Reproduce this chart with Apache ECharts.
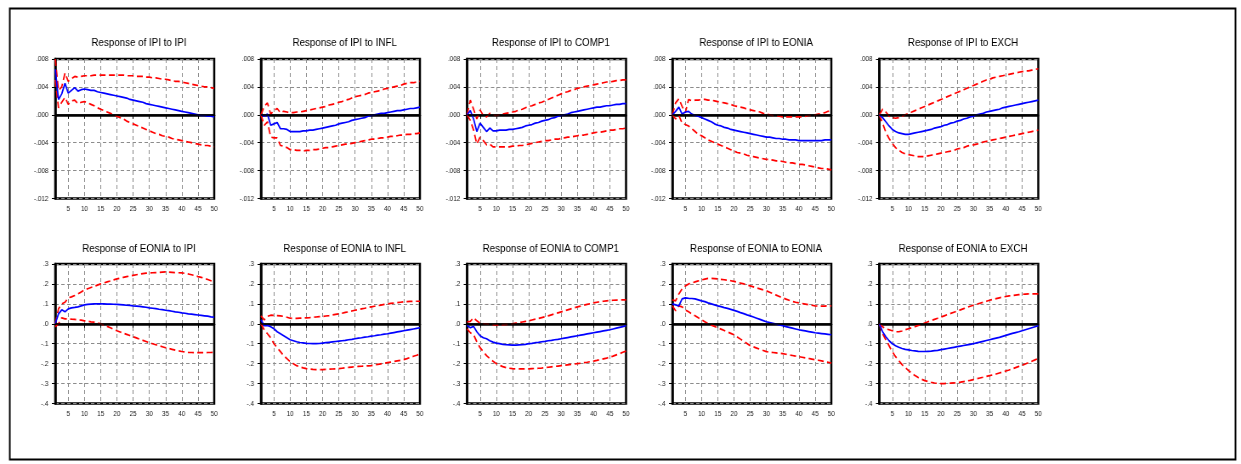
<!DOCTYPE html>
<html>
<head>
<meta charset="utf-8">
<script src="https://cdn.jsdelivr.net/npm/echarts@6/dist/echarts.min.js"></script>
<style>
  html, body { margin: 0; padding: 0; background: #fff; overflow: hidden; }
  #wrap { width: 1241px; height: 464px; overflow: hidden; }
  /* the graph is laid out on a 1460px wide sheet and squeezed to the window width */
  #main { width: 1460px; height: 464px; transform: scaleX(0.85); transform-origin: 0 0; }
</style>
</head>
<body>
<div id="wrap"><div id="main"></div></div>
<script>
// periods 1..50
var periods = [];
for (var p = 1; p <= 50; p++) periods.push(String(p));

// Response of IPI to IPI
var ipiIpi = [.0065,.0022,.0030,.0045,.0031,.0035,.0039,.0034,.0036,.0037,.0036,.0035,.0035,.0033,.0032,.0031,.0030,.0029,.0028,.0027,.0026,.0025,.0024,.0022,.0021,.0020,.0019,.0018,.0016,.0015,.0014,.0013,.0012,.0011,.0010,.0009,.0008,.0007,.0006,.0005,.0004,.0003,.0002,.0001,.0000,-.0001,-.0001,-.0002,-.0002,-.0003];
var ipiIpiHi = [.0080,.0035,.0040,.0060,.0048,.0052,.0055,.0054,.0055,.0056,.0056,.0056,.0057,.0057,.0057,.0057,.0057,.0057,.0057,.0057,.0057,.0057,.0056,.0056,.0056,.0055,.0055,.0055,.0054,.0054,.0053,.0053,.0052,.0051,.0051,.0050,.0049,.0048,.0048,.0047,.0046,.0045,.0044,.0043,.0042,.0041,.0040,.0040,.0039,.0038];
var ipiIpiLo = [.0050,.0010,.0018,.0025,.0015,.0020,.0021,.0016,.0018,.0019,.0017,.0015,.0013,.0010,.0008,.0006,.0004,.0002,.0000,-.0002,-.0004,-.0006,-.0009,-.0011,-.0013,-.0015,-.0017,-.0019,-.0021,-.0023,-.0025,-.0027,-.0028,-.0030,-.0031,-.0032,-.0034,-.0035,-.0036,-.0037,-.0038,-.0039,-.0040,-.0041,-.0042,-.0043,-.0044,-.0044,-.0045,-.0046];

// Response of IPI to INFL
var ipiInfl = [0,-.0002,.0001,-.0015,-.0013,-.0011,-.0020,-.0020,-.0021,-.0024,-.0024,-.0024,-.0024,-.0023,-.0023,-.0022,-.0022,-.0021,-.0020,-.0019,-.0018,-.0017,-.0016,-.0015,-.0013,-.0012,-.0011,-.0010,-.0008,-.0007,-.0006,-.0005,-.0004,-.0002,-.0001,.0000,.0001,.0002,.0002,.0003,.0004,.0005,.0006,.0006,.0007,.0008,.0009,.0009,.0010,.0011];
var ipiInflHi = [0,.0012,.0017,.0001,.0006,.0009,.0003,.0005,.0004,.0003,.0003,.0004,.0004,.0005,.0006,.0007,.0008,.0009,.0010,.0011,.0012,.0014,.0015,.0016,.0018,.0019,.0021,.0022,.0024,.0026,.0027,.0028,.0029,.0031,.0032,.0033,.0034,.0035,.0037,.0038,.0039,.0040,.0041,.0042,.0044,.0045,.0046,.0046,.0047,.0048];
var ipiInflLo = [0,-.0015,-.0010,-.0032,-.0033,-.0033,-.0044,-.0045,-.0047,-.0050,-.0050,-.0051,-.0051,-.0052,-.0051,-.0051,-.0050,-.0050,-.0049,-.0048,-.0047,-.0047,-.0046,-.0045,-.0044,-.0043,-.0042,-.0042,-.0041,-.0040,-.0039,-.0038,-.0037,-.0036,-.0035,-.0035,-.0034,-.0033,-.0033,-.0032,-.0031,-.0031,-.0030,-.0029,-.0029,-.0028,-.0028,-.0027,-.0027,-.0026];

// Response of IPI to COMP1
var ipiComp = [0,.0006,-.0006,-.0024,-.0012,-.0018,-.0024,-.0019,-.0023,-.0023,-.0022,-.0022,-.0022,-.0021,-.0021,-.0020,-.0019,-.0018,-.0016,-.0015,-.0014,-.0012,-.0011,-.0009,-.0008,-.0007,-.0005,-.0004,-.0002,-.0001,.0000,.0001,.0003,.0004,.0005,.0006,.0007,.0008,.0009,.0010,.0011,.0011,.0012,.0013,.0013,.0014,.0015,.0015,.0016,.0016];
var ipiCompHi = [0,.0021,.0008,-.0006,.0007,-.0001,-.0003,.0002,.0000,-.0001,.0000,.0001,.0002,.0003,.0004,.0005,.0007,.0008,.0010,.0012,.0013,.0015,.0017,.0018,.0020,.0022,.0024,.0026,.0028,.0030,.0032,.0033,.0035,.0036,.0038,.0039,.0040,.0041,.0042,.0043,.0044,.0045,.0046,.0047,.0047,.0048,.0049,.0049,.0050,.0050];
var ipiCompLo = [0,-.0008,-.0022,-.0042,-.0032,-.0037,-.0043,-.0042,-.0046,-.0046,-.0046,-.0046,-.0046,-.0046,-.0045,-.0045,-.0044,-.0044,-.0043,-.0042,-.0041,-.0040,-.0039,-.0038,-.0037,-.0037,-.0036,-.0035,-.0035,-.0034,-.0033,-.0032,-.0032,-.0031,-.0030,-.0029,-.0029,-.0028,-.0027,-.0026,-.0025,-.0025,-.0024,-.0023,-.0022,-.0022,-.0021,-.0020,-.0020,-.0019];

// Response of IPI to EONIA
var ipiEonia = [0,.0005,.0011,.0001,.0004,.0005,.0001,-.0001,-.0002,-.0004,-.0006,-.0008,-.0010,-.0013,-.0015,-.0016,-.0018,-.0019,-.0021,-.0022,-.0023,-.0024,-.0025,-.0026,-.0027,-.0028,-.0029,-.0030,-.0031,-.0032,-.0032,-.0033,-.0034,-.0034,-.0035,-.0035,-.0036,-.0036,-.0036,-.0037,-.0037,-.0037,-.0037,-.0037,-.0037,-.0037,-.0037,-.0036,-.0036,-.0036];
var ipiEoniaHi = [0,.0017,.0023,.0012,.0003,.0022,.0020,.0021,.0021,.0022,.0022,.0021,.0021,.0020,.0019,.0018,.0017,.0016,.0015,.0013,.0012,.0011,.0010,.0008,.0007,.0006,.0005,.0004,.0002,.0001,.0000,-.0001,-.0001,-.0002,-.0003,-.0003,-.0003,-.0003,-.0003,-.0003,-.0003,-.0002,-.0001,-.0001,.0000,.0001,.0002,.0003,.0005,.0006];
var ipiEoniaLo = [0,-.0006,-.0001,-.0012,-.0014,-.0016,-.0020,-.0024,-.0028,-.0030,-.0033,-.0036,-.0038,-.0040,-.0042,-.0044,-.0046,-.0048,-.0050,-.0052,-.0054,-.0055,-.0056,-.0058,-.0059,-.0060,-.0061,-.0062,-.0063,-.0064,-.0064,-.0065,-.0066,-.0066,-.0067,-.0068,-.0069,-.0069,-.0070,-.0071,-.0071,-.0072,-.0073,-.0074,-.0075,-.0076,-.0077,-.0077,-.0078,-.0079];

// Response of IPI to EXCH
var ipiExch = [0,-.0004,-.0010,-.0016,-.0021,-.0024,-.0026,-.0027,-.0028,-.0028,-.0027,-.0026,-.0025,-.0024,-.0023,-.0022,-.0021,-.0019,-.0018,-.0017,-.0015,-.0014,-.0012,-.0011,-.0009,-.0008,-.0006,-.0005,-.0003,-.0002,.0000,.0001,.0002,.0004,.0005,.0006,.0007,.0008,.0010,.0011,.0012,.0013,.0014,.0015,.0016,.0017,.0018,.0019,.0020,.0021];
var ipiExchHi = [0,.0008,.0004,-.0002,-.0004,-.0005,-.0004,-.0002,.0000,.0002,.0004,.0006,.0008,.0010,.0012,.0014,.0016,.0018,.0020,.0022,.0024,.0026,.0028,.0030,.0032,.0034,.0036,.0038,.0040,.0042,.0044,.0046,.0048,.0050,.0051,.0053,.0054,.0055,.0056,.0057,.0058,.0059,.0060,.0061,.0062,.0063,.0063,.0064,.0065,.0066];
var ipiExchLo = [0,-.0012,-.0025,-.0034,-.0041,-.0047,-.0051,-.0054,-.0056,-.0057,-.0058,-.0059,-.0060,-.0060,-.0060,-.0059,-.0058,-.0057,-.0056,-.0055,-.0054,-.0053,-.0052,-.0051,-.0049,-.0048,-.0047,-.0045,-.0044,-.0043,-.0042,-.0041,-.0039,-.0038,-.0037,-.0036,-.0035,-.0034,-.0033,-.0032,-.0031,-.0030,-.0029,-.0028,-.0027,-.0026,-.0025,-.0024,-.0023,-.0022];

// Response of EONIA to IPI
var eoIpi = [.000,.050,.070,.060,.075,.080,.082,.085,.090,.095,.097,.099,.100,.100,.100,.100,.099,.099,.098,.097,.096,.095,.093,.092,.090,.089,.087,.085,.083,.080,.078,.076,.073,.071,.068,.066,.063,.060,.058,.055,.053,.050,.048,.046,.044,.042,.040,.038,.035,.033];
var eoIpiHi = [.000,.075,.100,.108,.130,.135,.142,.150,.160,.170,.176,.182,.188,.194,.200,.205,.210,.215,.220,.225,.229,.233,.237,.240,.243,.246,.249,.252,.254,.255,.256,.257,.258,.259,.260,.259,.258,.257,.256,.255,.253,.250,.246,.242,.237,.233,.228,.222,.216,.210];
var eoIpiLo = [-.015,.000,.030,.025,.025,.023,.022,.020,.018,.015,.013,.010,.008,.004,.000,-.006,-.013,-.020,-.028,-.035,-.041,-.047,-.053,-.059,-.065,-.071,-.077,-.083,-.089,-.095,-.100,-.105,-.110,-.115,-.120,-.124,-.128,-.132,-.136,-.139,-.141,-.143,-.144,-.145,-.145,-.145,-.145,-.144,-.144,-.143];

// Response of EONIA to INFL
var eoInfl = [.020,-.010,-.008,-.015,-.025,-.040,-.050,-.060,-.070,-.080,-.085,-.090,-.094,-.096,-.098,-.099,-.100,-.100,-.099,-.097,-.095,-.093,-.091,-.089,-.087,-.085,-.083,-.080,-.078,-.075,-.072,-.070,-.067,-.065,-.062,-.060,-.057,-.055,-.052,-.050,-.047,-.044,-.041,-.038,-.035,-.032,-.029,-.026,-.023,-.020];
var eoInflHi = [.040,.020,.037,.043,.042,.041,.040,.037,.033,.028,.027,.027,.028,.029,.030,.031,.033,.034,.036,.037,.039,.041,.044,.047,.050,.053,.057,.060,.064,.068,.071,.075,.078,.082,.085,.088,.091,.094,.097,.100,.102,.104,.106,.108,.110,.111,.112,.113,.113,.113];
var eoInflLo = [.000,-.030,-.050,-.070,-.100,-.120,-.140,-.160,-.175,-.190,-.200,-.210,-.216,-.221,-.225,-.227,-.229,-.230,-.230,-.230,-.229,-.228,-.227,-.226,-.225,-.223,-.221,-.219,-.217,-.215,-.214,-.213,-.212,-.211,-.210,-.207,-.204,-.201,-.198,-.195,-.192,-.189,-.186,-.183,-.180,-.175,-.169,-.163,-.158,-.152];

// Response of EONIA to COMP1
var eoComp = [-.008,-.020,-.013,-.040,-.060,-.070,-.075,-.085,-.092,-.097,-.100,-.103,-.105,-.106,-.107,-.107,-.106,-.105,-.103,-.100,-.098,-.095,-.093,-.090,-.088,-.085,-.083,-.080,-.078,-.075,-.072,-.069,-.066,-.063,-.060,-.057,-.054,-.051,-.048,-.045,-.042,-.039,-.036,-.033,-.030,-.026,-.022,-.018,-.014,-.010];
var eoCompHi = [.010,.012,.030,.015,.003,.001,.000,-.002,-.004,-.005,-.005,-.004,-.003,-.002,.000,.003,.006,.009,.012,.015,.019,.023,.027,.031,.035,.040,.045,.050,.055,.060,.065,.070,.075,.080,.085,.089,.093,.097,.101,.105,.108,.111,.113,.115,.117,.118,.119,.120,.120,.120];
var eoCompLo = [-.025,-.045,-.055,-.090,-.120,-.140,-.160,-.175,-.188,-.200,-.208,-.215,-.220,-.223,-.225,-.226,-.226,-.226,-.226,-.226,-.225,-.224,-.223,-.222,-.220,-.218,-.216,-.214,-.212,-.210,-.208,-.206,-.204,-.202,-.200,-.198,-.195,-.193,-.190,-.187,-.184,-.180,-.176,-.172,-.167,-.162,-.156,-.150,-.143,-.137];

// Response of EONIA to EONIA
var eoEonia = [.100,.095,.090,.125,.130,.128,.127,.125,.120,.115,.111,.105,.100,.095,.090,.086,.081,.077,.072,.067,.062,.056,.051,.045,.040,.034,.028,.022,.016,.010,.006,.002,-.002,-.006,-.010,-.014,-.018,-.022,-.026,-.030,-.033,-.036,-.039,-.042,-.045,-.047,-.049,-.051,-.053,-.055];
var eoEoniaHi = [.120,.115,.150,.175,.190,.200,.205,.210,.215,.220,.224,.228,.228,.227,.225,.223,.221,.219,.216,.213,.209,.204,.200,.195,.190,.185,.180,.175,.170,.165,.158,.151,.144,.137,.130,.124,.118,.112,.108,.105,.102,.099,.096,.093,.090,.089,.089,.089,.090,.090];
var eoEoniaLo = [.090,.065,.090,.085,.070,.060,.050,.040,.030,.020,.010,.000,-.007,-.013,-.020,-.027,-.034,-.041,-.048,-.055,-.066,-.077,-.088,-.099,-.110,-.116,-.122,-.128,-.134,-.140,-.142,-.144,-.146,-.148,-.150,-.153,-.156,-.159,-.162,-.165,-.168,-.171,-.174,-.177,-.180,-.183,-.186,-.190,-.193,-.197];

// Response of EONIA to EXCH
var eoExch = [.000,-.040,-.065,-.085,-.100,-.110,-.118,-.124,-.128,-.131,-.134,-.136,-.138,-.139,-.139,-.138,-.137,-.135,-.133,-.130,-.127,-.124,-.121,-.118,-.115,-.112,-.109,-.106,-.103,-.100,-.096,-.092,-.088,-.084,-.080,-.076,-.072,-.068,-.063,-.058,-.053,-.048,-.044,-.040,-.035,-.030,-.025,-.020,-.015,-.010];
var eoExchHi = [.000,-.015,-.025,-.030,-.035,-.040,-.040,-.036,-.030,-.025,-.020,-.014,-.008,-.002,.004,.010,.016,.022,.028,.034,.040,.046,.052,.058,.064,.070,.076,.082,.088,.093,.098,.103,.108,.113,.118,.122,.126,.130,.134,.137,.140,.142,.144,.146,.148,.149,.150,.150,.150,.150];
var eoExchLo = [.000,-.050,-.080,-.110,-.140,-.165,-.185,-.205,-.220,-.235,-.248,-.260,-.270,-.278,-.285,-.290,-.294,-.297,-.299,-.300,-.300,-.299,-.298,-.297,-.295,-.293,-.290,-.287,-.284,-.280,-.276,-.272,-.268,-.264,-.260,-.256,-.252,-.247,-.242,-.237,-.232,-.226,-.220,-.214,-.208,-.202,-.195,-.188,-.181,-.174];

var titles = [
  'Response of IPI to IPI', 'Response of IPI to INFL', 'Response of IPI to COMP1', 'Response of IPI to EONIA', 'Response of IPI to EXCH',
  'Response of EONIA to IPI', 'Response of EONIA to INFL', 'Response of EONIA to COMP1', 'Response of EONIA to EONIA', 'Response of EONIA to EXCH'
];
var lines = [
  [ipiIpi, ipiIpiHi, ipiIpiLo], [ipiInfl, ipiInflHi, ipiInflLo], [ipiComp, ipiCompHi, ipiCompLo], [ipiEonia, ipiEoniaHi, ipiEoniaLo], [ipiExch, ipiExchHi, ipiExchLo],
  [eoIpi, eoIpiHi, eoIpiLo], [eoInfl, eoInflHi, eoInflLo], [eoComp, eoCompHi, eoCompLo], [eoEonia, eoEoniaHi, eoEoniaLo], [eoExch, eoExchHi, eoExchLo]
];

// layout on the 1460px sheet
var colLeft = [65, 307, 549.5, 791, 1034.5];
var rowTop = [59, 264];
var plotW = 187, plotH = 139.5;

function fmt(dec) {
  return function (v) {
    var s = Number(v).toFixed(dec);
    return s.replace(/^(-?)0\./, '$1.');
  };
}
var every5 = function (i) { return (i + 1) % 5 === 0; };

var grids = [], xAxes = [], yAxes = [], series = [], titleOpts = [];

for (var k = 0; k < 10; k++) {
  var row = k < 5 ? 0 : 1, col = k % 5;
  grids.push({
    left: colLeft[col], top: rowTop[row], width: plotW, height: plotH,
    show: true, borderColor: '#000', borderWidth: 2.5
  });
  titleOpts.push({
    text: titles[k],
    left: colLeft[col] + plotW / 2, textAlign: 'center',
    top: row ? 238 : 32,
    textStyle: { fontFamily: 'Liberation Sans', fontSize: 11.5, fontWeight: 'normal', color: '#000' }
  });
  xAxes.push({
    gridIndex: k, type: 'category', data: periods, boundaryGap: false,
    axisLine: { show: true, lineStyle: { color: '#000', width: 2.5 } },
    axisTick: { show: true, interval: every5, length: 4, lineStyle: { color: '#000', width: 1 } },
    axisLabel: { interval: every5, fontSize: 7.5, color: '#222', margin: 6, fontFamily: 'Liberation Sans' },
    splitLine: { show: true, interval: function (i) { return (i + 1) % 5 === 0 && i < 49; },
      lineStyle: { color: '#8c8c8c', type: [4, 3], width: 1 } }
  });
  yAxes.push({
    gridIndex: k, type: 'value',
    min: row ? -0.4 : -0.012, max: row ? 0.3 : 0.008, interval: row ? 0.1 : 0.004,
    axisLine: { show: true, lineStyle: { color: '#000', width: 2.5 } },
    axisTick: { show: true, length: 4, lineStyle: { color: '#000', width: 1 } },
    axisLabel: { formatter: fmt(row ? 1 : 3), fontSize: 7.5, color: '#222', margin: 8, fontFamily: 'Liberation Sans' },
    splitLine: { show: true, lineStyle: { color: '#8c8c8c', type: [4, 3], width: 1 } }
  });
  var set = lines[k];
  series.push({
    type: 'line', xAxisIndex: k, yAxisIndex: k, data: set[0], symbol: 'none', z: 4,
    lineStyle: { color: '#0000ff', width: 1.7 },
    markLine: { silent: true, symbol: 'none', label: { show: false },
      lineStyle: { color: '#000', width: 1.6, type: 'solid' }, data: [{ yAxis: 0 }] }
  });
  series.push({
    type: 'line', xAxisIndex: k, yAxisIndex: k, data: set[1], symbol: 'none', z: 3,
    lineStyle: { color: '#ff0000', width: 1.7, type: [7, 4] }
  });
  series.push({
    type: 'line', xAxisIndex: k, yAxisIndex: k, data: set[2], symbol: 'none', z: 3,
    lineStyle: { color: '#ff0000', width: 1.7, type: [7, 4] }
  });
}

var chart = echarts.init(document.getElementById('main'), null, { renderer: 'canvas', width: 1460, height: 464 });
chart.setOption({
  backgroundColor: '#fff',
  animation: false,
  title: titleOpts,
  grid: grids,
  xAxis: xAxes,
  yAxis: yAxes,
  series: series,
  graphic: [{
    type: 'rect', left: 9, top: 6, silent: true,
    shape: { width: 1442, height: 451 },
    style: { fill: 'none', stroke: '#000', lineWidth: 2 }
  }]
});
</script>
</body>
</html>
